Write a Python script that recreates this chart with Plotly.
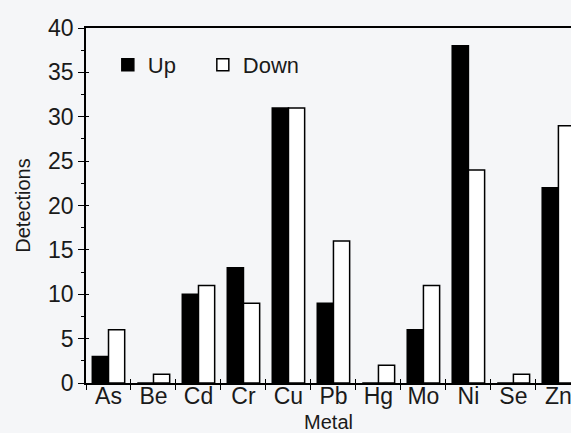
import plotly.graph_objects as go

metals = ["As", "Be", "Cd", "Cr", "Cu", "Pb", "Hg", "Mo", "Ni", "Se", "Zn"]
up = [3, 0, 10, 13, 31, 9, 0, 6, 38, 0, 22]
down = [6, 1, 11, 9, 31, 16, 2, 11, 24, 1, 29]
y_ticks = [0, 5, 10, 15, 20, 25, 30, 35, 40]

FONT = "Liberation Sans, Arial, sans-serif"
BG = "#f5f6f8"
XRANGE = [-0.5, 10.28]
YRANGE = [0, 40]

fig = go.Figure()
fig.add_trace(go.Bar(x=metals, y=up, name="Up",
                     marker=dict(color="black", line=dict(color="black", width=1.5))))
fig.add_trace(go.Bar(x=metals, y=down, name="Down",
                     marker=dict(color="white", line=dict(color="black", width=1.5))))
# invisible helper trace so the overlay axes (inner tick marks) are drawn
fig.add_trace(go.Scatter(x=metals, y=up, xaxis="x2", yaxis="y2", mode="markers",
                         marker=dict(opacity=0), showlegend=False, hoverinfo="skip"))

fig.update_layout(
    width=571, height=433,
    margin=dict(l=86, r=0, t=28, b=50),
    paper_bgcolor=BG, plot_bgcolor=BG,
    barmode="group", bargap=0.28, bargroupgap=0,
    font=dict(family=FONT, size=23, color="#1a1a1a"),
    showlegend=True,
    legend=dict(orientation="h", x=0.045, y=0.955, xanchor="left", yanchor="top",
                bgcolor="rgba(0,0,0,0)", font=dict(size=22), itemwidth=30,
                entrywidth=50, tracegroupgap=0),
    xaxis=dict(
        range=XRANGE, showgrid=False, showline=True, linecolor="black",
        linewidth=1.5, mirror=True, ticks="outside", tickson="boundaries",
        ticklen=5, tickcolor="black", tickwidth=1.2, ticklabelstandoff=-8,
        title=dict(text="Metal", font=dict(size=20), standoff=8),
        tickfont=dict(size=23),
    ),
    xaxis2=dict(
        overlaying="x", categoryorder="array", categoryarray=metals,
        range=XRANGE, side="bottom", anchor="y2", showgrid=False, showline=False,
        ticks="inside", tickson="boundaries", ticklen=4, tickcolor="black", tickwidth=1.2,
        showticklabels=False,
    ),
    yaxis=dict(
        range=YRANGE, tickvals=y_ticks, showgrid=False, zeroline=False,
        showline=True, linecolor="black", linewidth=1.5,
        ticks="outside", ticklen=6, tickcolor="black", tickwidth=1.2,
        minor=dict(dtick=2.5, ticks="outside", ticklen=3, tickcolor="black", showgrid=False),
        title=dict(text="Detections", font=dict(size=20), standoff=12),
        tickfont=dict(size=23),
    ),
    yaxis2=dict(
        overlaying="y", range=YRANGE, tickvals=y_ticks, side="left", anchor="x2",
        showgrid=False, zeroline=False, showline=False,
        ticks="inside", ticklen=3, tickcolor="black", tickwidth=1.2,
        showticklabels=False,
    ),
)

fig.write_html("out.html")
